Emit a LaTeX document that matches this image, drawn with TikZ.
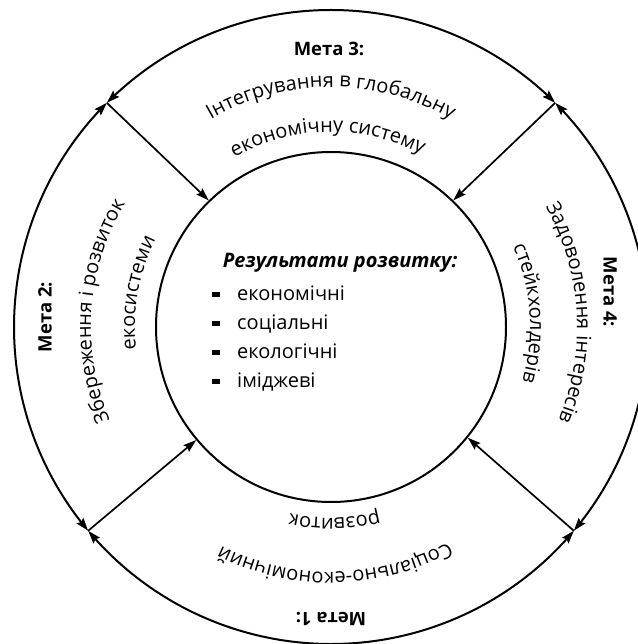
\documentclass[tikz,border=0pt]{standalone}
\usepackage{fontspec}
\setmainfont{Open Sans}
\usetikzlibrary{arrows.meta,decorations.text,bending}

\newcommand\listbullet{\llap{\rule[3.5pt]{7.5pt}{5pt}\hspace{17.5pt}}}
\newcommand\arctext[3]{%
  \path[decorate,decoration={text along path,text align=center,
    text={|\fontsize{20}{24}\selectfont|#3}}]
    (#1+70:#2) arc[start angle=#1+70,end angle=#1-70,radius=#2];}

\tikzset{
  ring/.style={line width=2pt},
  tipS/.tip={Stealth[length=13pt,width=8.5pt,inset=2pt]},
  arcarrow/.style={ring,tipS-tipS},
  radarrow/.style={line width=1.7pt,-tipS},
  goal/.style={font=\fontsize{18.5}{22}\selectfont\bfseries,inner sep=0pt},
  item/.style={font=\fontsize{20}{24}\selectfont,anchor=base west,inner sep=0pt},
}

\begin{document}
\begin{tikzpicture}[x=1pt,y=1pt]
\useasboundingbox (-331,-317) rectangle (306,327);

% circles
\node[circle,minimum size=634pt,inner sep=0pt,outer sep=0pt] (outer) at (0,0) {};
\node[circle,draw,ring,minimum size=350pt,inner sep=0pt] (inner) at (0,0) {};

% outer arcs with arrows at the junctions
\draw[arcarrow] (outer.45)  arc[start angle=45, end angle=135,radius=317];
\draw[arcarrow] (outer.135) arc[start angle=135,end angle=220,radius=317];
\draw[arcarrow] (outer.220) arc[start angle=220,end angle=320,radius=317];
\draw[arcarrow] (outer.320) arc[start angle=320,end angle=405,radius=317];

% radial arrows
\draw[radarrow] (outer.135) -- (inner.134);
\draw[radarrow] (outer.45)  -- (inner.46);
\draw[radarrow] (outer.220) -- (inner.220);
\draw[radarrow] (outer.320) -- (inner.321);

% goal labels
\node[goal] (m3) at (-2,278) {Мета 3:};
\node[goal,rotate=180] (m1) at (0,-292) {Мета 1:};
\node[goal,rotate=90] (m2) at (-286,10) {Мета 2:};
\node[goal,rotate=-90] (m4) at (279,35) {Мета 4:};

% curved texts
\arctext{90}{240}{Інтегрування в глобальну}
\arctext{91}{195}{економічну систему}
\arctext{271}{245}{Соціально-економічний}
\arctext{271}{191}{розвиток}
\arctext{176}{240}{Збереження і розвиток}
\arctext{170}{196}{екосистеми}
\arctext{3.5}{246}{Задоволення інтересів}
\arctext{4}{199}{стейкхолдерів}

% centre
\node[font=\fontsize{20}{24}\selectfont\bfseries\itshape,anchor=base,inner sep=0pt] (title) at (9,59) {Результати розвитку:};
\node[item] (i1) at (-94,26)  {\listbullet економічні};
\node[item] (i2) at (-94,-3)  {\listbullet соціальні};
\node[item] (i3) at (-94,-32) {\listbullet екологічні};
\node[item] (i4) at (-94,-61) {\listbullet іміджеві};
\end{tikzpicture}
\end{document}
